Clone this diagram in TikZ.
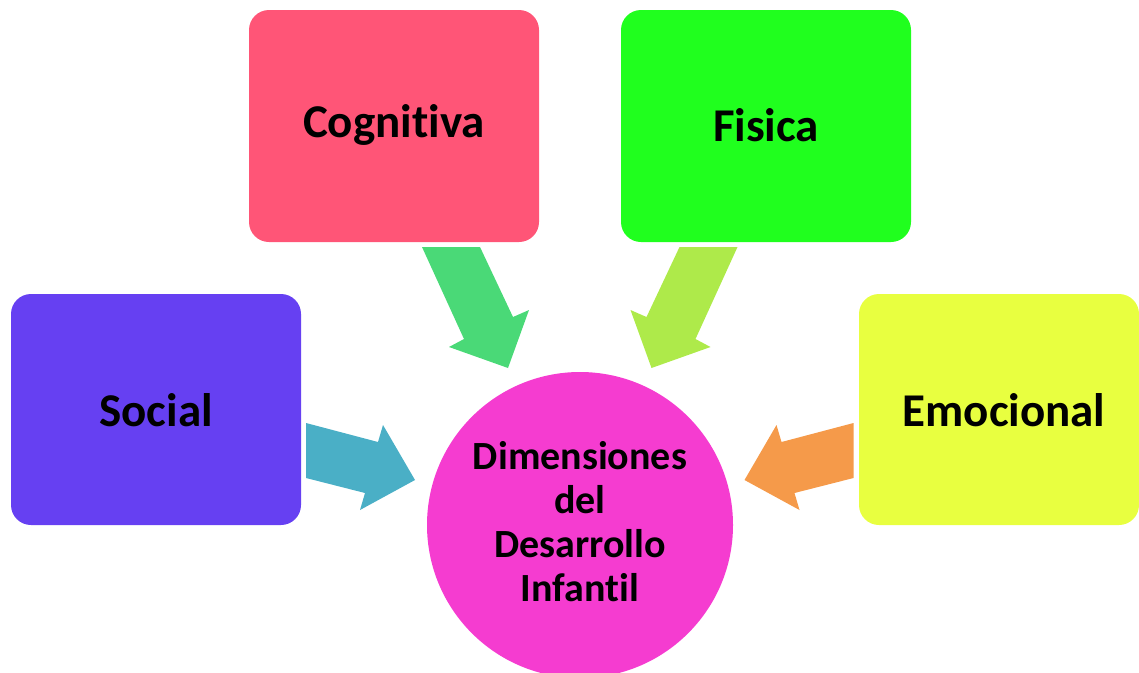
\documentclass[tikz,border=0pt]{standalone}
\usepackage{fontspec}
\setmainfont{Carlito}[RawFeature={-liga;-dlig;-clig}]
\definecolor{cogc}{HTML}{FF5577}
\definecolor{fisc}{HTML}{20FF1E}
\definecolor{socc}{HTML}{6640F2}
\definecolor{emoc}{HTML}{E8FF40}
\definecolor{circ}{HTML}{F53CD0}
\definecolor{arg}{HTML}{4AD977}
\definecolor{arl}{HTML}{AEEA4A}
\definecolor{art}{HTML}{4AAFC6}
\definecolor{aro}{HTML}{F59A4A}
\tikzset{
  boxlabel/.style={font=\fontsize{47}{52}\selectfont\bfseries},
  boxshape/.style={rounded corners=20pt}
}
\begin{document}
\begin{tikzpicture}[x=1pt,y=-1pt]
\useasboundingbox (0,0) rectangle (1139,672);
\clip (0,0) rectangle (1139,672);
% boxes
\fill[cogc, boxshape] (249,10) rectangle (539,242);
\node (cog) at (394,125) [boxlabel] {Cognit\kern0pt iva};
\fill[fisc, boxshape] (621,10) rectangle (911,242);
\node (fis) at (766,125) [boxlabel] {Fisica};
\fill[socc, boxshape] (11,294) rectangle (301,525);
\node (soc) at (156,410) [boxlabel] {Social};
\fill[emoc, boxshape] (859,294) rectangle (1139,525);
\node (emo) at (1004,410) [boxlabel] {Emocional};
% circle
\fill[circ] (580,525) circle (153);
\node (dim) at (580,522) [align=center, font=\fontsize{40}{44}\selectfont\bfseries] {Dimensiones\\del\\Desarrollo\\Infant\kern0pt il};
% arrows
\fill[arg] (422,247) -- (480,247) -- (513,317) -- (529,310) -- (508,368) -- (449,347) -- (464,339) -- cycle;
\fill[arl] (737.5,247) -- (679.5,247) -- (646.5,317) -- (630.5,310) -- (651.5,368) -- (710.5,347) -- (695.5,339) -- cycle;
\fill[art] (306,423) -- (378,442) -- (383,425) -- (415,480) -- (360,510) -- (365,493) -- (306,478) -- cycle;
\fill[aro] (853.5,423) -- (781.5,442) -- (776.5,425) -- (744.5,480) -- (799.5,510) -- (794.5,493) -- (853.5,478) -- cycle;
\end{tikzpicture}
\end{document}
